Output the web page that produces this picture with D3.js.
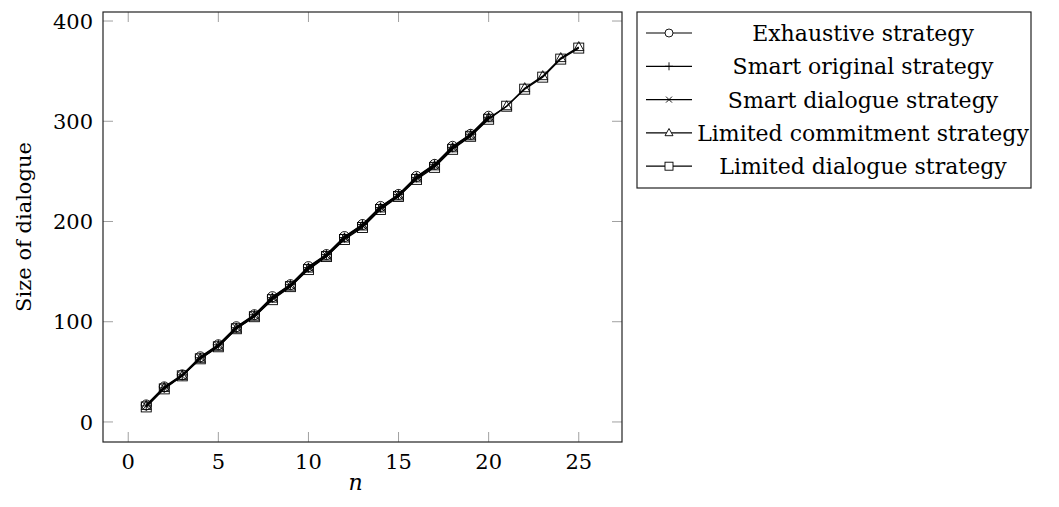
<!DOCTYPE html>
<html>
<head>
<meta charset="utf-8">
<script src="https://cdn.jsdelivr.net/npm/d3@7"></script>
<style>
  body { margin: 0; background: #fff; }
  svg { display: block; font-family: "DejaVu Serif", "Liberation Serif", serif; }
</style>
</head>
<body>
<script>
// values
const nShort = d3.range(1, 21);
const nLong = d3.range(1, 26);
const exhaustive     = [17, 35, 47, 65, 77, 95, 107, 125, 137, 155, 167, 185, 197, 215, 227, 245, 257, 275, 287, 305];
const smartOriginal  = [16, 34, 47, 64, 77, 94, 107, 124, 137, 154, 167, 184, 197, 214, 227, 244, 257, 274, 287, 304];
const smartDialogue  = [16, 34, 46, 64, 76, 94, 106, 124, 136, 154, 166, 184, 196, 214, 226, 244, 256, 274, 286, 304];
const limitedCommit  = [16, 34, 46, 63, 75, 93, 105, 123, 135, 153, 165, 183, 195, 213, 225, 243, 255, 273, 285, 303, 315, 333, 345, 363, 374];
const limitedDialog  = [15, 33, 46, 63, 75, 93, 105, 122, 135, 152, 165, 182, 194, 212, 225, 242, 254, 272, 285, 302, 315, 332, 344, 362, 373];
const xTicks = [0, 5, 10, 15, 20, 25];
const yTicks = [0, 100, 200, 300, 400];

const series = [
  {name: "Exhaustive strategy", mark: "circle", xs: nShort, ys: exhaustive},
  {name: "Smart original strategy", mark: "plus", xs: nShort, ys: smartOriginal},
  {name: "Smart dialogue strategy", mark: "cross", xs: nShort, ys: smartDialogue},
  {name: "Limited commitment strategy", mark: "triangle", xs: nLong, ys: limitedCommit},
  {name: "Limited dialogue strategy", mark: "square", xs: nLong, ys: limitedDialog}
];

const width = 1059, height = 507;
const marginLeft = 103, plotRight = 622, marginTop = 12, plotBottom = 442;

const x = d3.scaleLinear([-1.4, 27.4], [marginLeft, plotRight]);
const y = d3.scaleLinear([-20, 409], [plotBottom, marginTop]);

const svg = d3.select("body").append("svg")
    .attr("viewBox", [0, 0, width, height])
    .attr("width", width)
    .attr("height", height);

const tickColor = "#a0a0a0";
const tickLen = 10;

// ticks on all four sides, pointing inward
const ticks = svg.append("g").attr("stroke", tickColor).attr("stroke-width", 1);
xTicks.forEach(t => {
  ticks.append("line").attr("x1", x(t)).attr("x2", x(t)).attr("y1", plotBottom).attr("y2", plotBottom - tickLen);
  ticks.append("line").attr("x1", x(t)).attr("x2", x(t)).attr("y1", marginTop).attr("y2", marginTop + tickLen);
});
yTicks.forEach(t => {
  ticks.append("line").attr("x1", marginLeft).attr("x2", marginLeft + tickLen).attr("y1", y(t)).attr("y2", y(t));
  ticks.append("line").attr("x1", plotRight).attr("x2", plotRight - tickLen).attr("y1", y(t)).attr("y2", y(t));
});

svg.append("rect")
    .attr("x", marginLeft).attr("y", marginTop)
    .attr("width", plotRight - marginLeft).attr("height", plotBottom - marginTop)
    .attr("fill", "none").attr("stroke", "#222").attr("stroke-width", 1.2);

// tick labels
svg.append("g").attr("font-size", 21).attr("text-anchor", "middle")
  .selectAll("text").data(xTicks).join("text")
    .attr("x", d => x(d)).attr("y", 469).text(d => d);
svg.append("g").attr("font-size", 21).attr("text-anchor", "end")
  .selectAll("text").data(yTicks).join("text")
    .attr("x", 93).attr("y", d => y(d)).attr("dy", "0.36em").text(d => d);

// axis titles
svg.append("text").attr("x", (marginLeft + plotRight) / 2 - 7).attr("y", 490)
    .attr("text-anchor", "middle").attr("font-size", 22).attr("font-style", "italic").text("n");
svg.append("text").attr("transform", `translate(31,${(marginTop + plotBottom) / 2}) rotate(-90)`)
    .attr("text-anchor", "middle").attr("font-size", 21).text("Size of dialogue");

// marker drawing
function drawMark(g, type, cx, cy, r) {
  if (type === "circle") g.append("circle").attr("cx", cx).attr("cy", cy).attr("r", r);
  else if (type === "square") g.append("rect").attr("x", cx - r).attr("y", cy - r).attr("width", 2 * r).attr("height", 2 * r);
  else if (type === "triangle") g.append("path").attr("d", `M${cx},${cy - r * 1.1}L${cx + r},${cy + r * 0.7}L${cx - r},${cy + r * 0.7}Z`);
  else if (type === "plus") g.append("path").attr("d", `M${cx - r},${cy}H${cx + r}M${cx},${cy - r}V${cy + r}`);
  else if (type === "cross") g.append("path").attr("d", `M${cx - r * 0.75},${cy - r * 0.75}L${cx + r * 0.75},${cy + r * 0.75}M${cx - r * 0.75},${cy + r * 0.75}L${cx + r * 0.75},${cy - r * 0.75}`);
}

const line = d3.line().x(d => x(d[0])).y(d => y(d[1]));

series.forEach(s => {
  const pts = s.xs.map((n, i) => [n, s.ys[i]]);
  svg.append("path").datum(pts)
      .attr("fill", "none").attr("stroke", "#000").attr("stroke-width", 1.3)
      .attr("d", line);
  const g = svg.append("g").attr("fill", "none").attr("stroke", "#000").attr("stroke-width", 0.9);
  pts.forEach(p => drawMark(g, s.mark, x(p[0]), y(p[1]), 5));
});

// legend
const legend = svg.append("g");
legend.append("rect").attr("x", 637).attr("y", 12).attr("width", 394).attr("height", 176)
    .attr("fill", "#fff").attr("stroke", "#222").attr("stroke-width", 1.2);
series.forEach((s, i) => {
  const cy = 33 + i * 33.3;
  legend.append("line").attr("x1", 646).attr("x2", 692).attr("y1", cy).attr("y2", cy)
      .attr("stroke", "#000").attr("stroke-width", 1.2);
  const g = legend.append("g").attr("fill", "#fff").attr("stroke", "#000").attr("stroke-width", 0.9);
  drawMark(g, s.mark, 669, cy, 4);
  legend.append("text").attr("x", 863).attr("y", cy).attr("dy", "0.36em")
      .attr("text-anchor", "middle").attr("font-size", 22).text(s.name);
});
</script>
</body>
</html>
